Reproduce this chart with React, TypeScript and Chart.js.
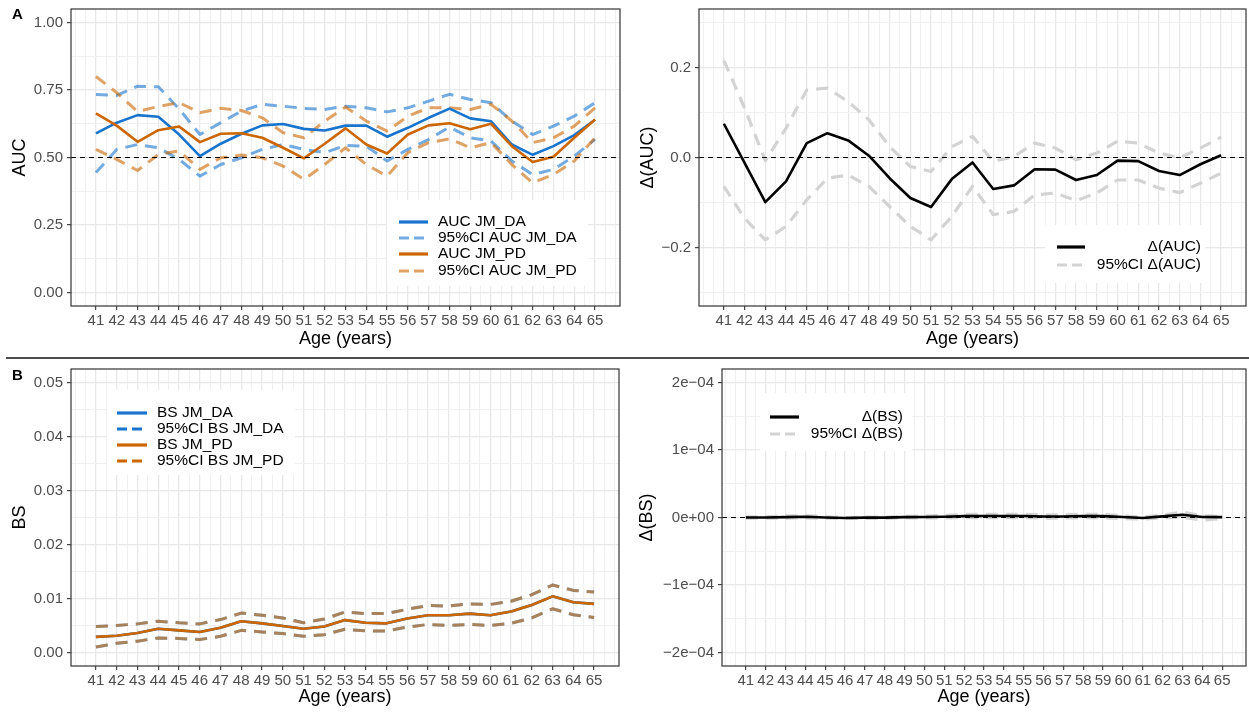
import React, { useEffect, useRef } from "react";
import { Chart, registerables } from "chart.js";

Chart.register(...registerables);

const FONT = "'Liberation Sans', Arial, Helvetica, sans-serif";
Chart.defaults.font.family = FONT;

// ---------------- data ----------------
const AGES = [41, 42, 43, 44, 45, 46, 47, 48, 49, 50, 51, 52, 53, 54, 55, 56, 57, 58, 59, 60, 61, 62, 63, 64, 65];

const AUC_DA = [0.589, 0.629, 0.657, 0.651, 0.585, 0.505, 0.551, 0.588, 0.619, 0.624, 0.606, 0.600, 0.618, 0.618, 0.577, 0.610, 0.647, 0.681, 0.645, 0.634, 0.548, 0.510, 0.542, 0.583, 0.640];
const AUC_DA_HI = [0.733, 0.730, 0.764, 0.762, 0.680, 0.585, 0.629, 0.672, 0.697, 0.690, 0.682, 0.678, 0.690, 0.684, 0.669, 0.684, 0.709, 0.734, 0.715, 0.703, 0.635, 0.585, 0.616, 0.653, 0.703];
const AUC_DA_LO = [0.444, 0.530, 0.548, 0.536, 0.493, 0.431, 0.474, 0.499, 0.530, 0.548, 0.530, 0.518, 0.545, 0.542, 0.487, 0.530, 0.567, 0.613, 0.573, 0.561, 0.487, 0.437, 0.456, 0.505, 0.567];
const AUC_PD = [0.663, 0.618, 0.558, 0.601, 0.615, 0.557, 0.588, 0.590, 0.573, 0.536, 0.497, 0.551, 0.608, 0.548, 0.515, 0.585, 0.619, 0.627, 0.605, 0.625, 0.542, 0.483, 0.503, 0.573, 0.641];
const AUC_PD_HI = [0.800, 0.740, 0.670, 0.689, 0.703, 0.666, 0.682, 0.674, 0.647, 0.592, 0.573, 0.635, 0.687, 0.635, 0.598, 0.653, 0.684, 0.684, 0.678, 0.697, 0.635, 0.555, 0.573, 0.616, 0.684];
const AUC_PD_LO = [0.530, 0.493, 0.452, 0.511, 0.524, 0.456, 0.499, 0.509, 0.499, 0.468, 0.419, 0.474, 0.536, 0.474, 0.431, 0.518, 0.555, 0.569, 0.536, 0.555, 0.474, 0.406, 0.437, 0.487, 0.573];

const DAUC = [0.075, -0.012, -0.099, -0.053, 0.032, 0.054, 0.038, 0.004, -0.046, -0.090, -0.110, -0.048, -0.011, -0.070, -0.062, -0.026, -0.027, -0.050, -0.039, -0.007, -0.008, -0.030, -0.039, -0.015, 0.005];
const DAUC_HI = [0.216, 0.110, -0.007, 0.065, 0.150, 0.154, 0.124, 0.084, 0.024, -0.020, -0.031, 0.024, 0.047, -0.009, 0.002, 0.032, 0.021, -0.005, 0.010, 0.036, 0.032, 0.010, -0.001, 0.021, 0.045];
const DAUC_LO = [-0.064, -0.135, -0.183, -0.153, -0.094, -0.046, -0.039, -0.064, -0.109, -0.153, -0.183, -0.131, -0.064, -0.127, -0.120, -0.083, -0.079, -0.096, -0.079, -0.050, -0.050, -0.068, -0.078, -0.057, -0.035];

const BS_DA = [0.0029, 0.0031, 0.0036, 0.0044, 0.0041, 0.0038, 0.0046, 0.0058, 0.0054, 0.0049, 0.0044, 0.0048, 0.0060, 0.0055, 0.0054, 0.0063, 0.0069, 0.0069, 0.0072, 0.0069, 0.0076, 0.0088, 0.0104, 0.0093, 0.0090];
const BS_DA_HI = [0.0048, 0.0050, 0.0053, 0.0058, 0.0055, 0.0053, 0.0061, 0.0073, 0.0069, 0.0064, 0.0055, 0.0062, 0.0075, 0.0072, 0.0072, 0.0080, 0.0087, 0.0086, 0.0090, 0.0089, 0.0095, 0.0107, 0.0125, 0.0115, 0.0112];
const BS_DA_LO = [0.0010, 0.0017, 0.0021, 0.0027, 0.0026, 0.0024, 0.0030, 0.0041, 0.0038, 0.0035, 0.0030, 0.0033, 0.0043, 0.0040, 0.0040, 0.0047, 0.0052, 0.0050, 0.0052, 0.0050, 0.0054, 0.0064, 0.0081, 0.0070, 0.0065];
const BS_PD = [0.0029, 0.0031, 0.0036, 0.0044, 0.0041, 0.0038, 0.0046, 0.0058, 0.0054, 0.0049, 0.0044, 0.0048, 0.0060, 0.0055, 0.0054, 0.0063, 0.0069, 0.0069, 0.0072, 0.0069, 0.0076, 0.0088, 0.0104, 0.0093, 0.0090];
const BS_PD_HI = [0.0048, 0.0050, 0.0053, 0.0058, 0.0055, 0.0053, 0.0061, 0.0073, 0.0069, 0.0064, 0.0055, 0.0062, 0.0075, 0.0072, 0.0072, 0.0080, 0.0087, 0.0086, 0.0090, 0.0089, 0.0095, 0.0107, 0.0125, 0.0115, 0.0112];
const BS_PD_LO = [0.0010, 0.0017, 0.0021, 0.0027, 0.0026, 0.0024, 0.0030, 0.0041, 0.0038, 0.0035, 0.0030, 0.0033, 0.0043, 0.0040, 0.0040, 0.0047, 0.0052, 0.0050, 0.0052, 0.0050, 0.0054, 0.0064, 0.0081, 0.0070, 0.0065];

const DBS = [0, 0, 0.5e-6, 1e-6, 0, -0.7e-6, -0.2e-6, -0.2e-6, 0.5e-6, 0.7e-6, 1.2e-6, 2e-6, 2.2e-6, 2.2e-6, 2.2e-6, 1.5e-6, 1.5e-6, 2.2e-6, 2e-6, 0.7e-6, -0.7e-6, 1.7e-6, 4e-6, 0.7e-6, 0.5e-6];
const DBS_HI = [1e-6, 1e-6, 2e-6, 2.7e-6, 1e-6, 0, 0.5e-6, 0.5e-6, 1.5e-6, 2e-6, 3e-6, 4.5e-6, 4.7e-6, 4.7e-6, 4.7e-6, 4e-6, 4e-6, 4.7e-6, 4.5e-6, 2.5e-6, 0.5e-6, 3.5e-6, 7.9e-6, 2.5e-6, 1.5e-6];
const DBS_LO = [-1e-6, -1e-6, -1e-6, -0.5e-6, -1e-6, -1.5e-6, -1.2e-6, -1.2e-6, -0.5e-6, -0.5e-6, -0.5e-6, -0.3e-6, -0.3e-6, -0.3e-6, -0.3e-6, -0.8e-6, -0.8e-6, -0.3e-6, -0.5e-6, -1.5e-6, -2.5e-6, -0.5e-6, 0.5e-6, -4e-6, -1.5e-6];

// tick values / labels
const AUC_TICKS = [0, 0.25, 0.5, 0.75, 1];
const AUC_TICK_LABELS = ["0.00", "0.25", "0.50", "0.75", "1.00"];
const DAUC_TICKS = [-0.2, 0, 0.2];
const DAUC_TICK_LABELS = ["\u22120.2", "0.0", "0.2"];
const BS_TICKS = [0, 0.01, 0.02, 0.03, 0.04, 0.05];
const BS_TICK_LABELS = ["0.00", "0.01", "0.02", "0.03", "0.04", "0.05"];
const DBS_TICKS = [-2e-4, -1e-4, 0, 1e-4, 2e-4];
const DBS_TICK_LABELS = ["\u22122e\u221204", "\u22121e\u221204", "0e+00", "1e\u221204", "2e\u221204"];

// ---------------- styles ----------------
const BLUE = "#1874CD";
const ORANGE = "#CC6600";
const BLUE_CI = "rgba(24,116,205,0.6)";
const ORANGE_CI = "rgba(204,102,0,0.6)";
const GREY_CI = "#d3d3d3";
const BLACK = "#000000";
const DASH = [12, 8];
const KEY_DASH = [10, 5];

// expand range like ggplot (5%)
function expand(lo: number, hi: number): [number, number] {
  const d = (hi - lo) * 0.05;
  return [lo - d, hi + d];
}

function withMinors(major: number[], lo: number, hi: number): number[] {
  const step = major[1] - major[0];
  const ext = [major[0] - step, ...major, major[major.length - 1] + step];
  const out: number[] = [];
  for (let i = 0; i < ext.length; i++) {
    out.push(ext[i]);
    if (i < ext.length - 1) out.push((ext[i] + ext[i + 1]) / 2);
  }
  const eps = step * 1e-6;
  return out.filter((v) => v >= lo - eps && v <= hi + eps);
}

function isMajor(v: number, major: number[]) {
  const step = Math.abs(major[1] - major[0]);
  return major.some((m) => Math.abs(m - v) < step * 1e-6);
}

type Series = { data: number[]; color: string; width: number; dash: number[]; order: number };
type LegendItem = { label: string; color: string; dash: number[]; width: number };
type LegendSpec = {
  box: [number, number, number, number];
  keyX0: number;
  keyX1: number;
  textX: number;
  align: CanvasTextAlign;
  rows: number[];
  items: LegendItem[];
};
type PanelSpec = {
  left: number;
  top: number;
  w: number;
  h: number;
  pad: { top: number; right: number };
  yW: number;
  xH: number;
  yMajor: number[];
  yLabels: string[];
  yRange: [number, number];
  yTitle: string;
  yTitlePad: number;
  xTitlePad: number;
  refY: number;
  series: Series[];
  legend: LegendSpec;
};

const X_RANGE = expand(AGES[0], AGES[AGES.length - 1]);

function buildConfig(spec: PanelSpec): any {
  const xGrid = withMinors(AGES, X_RANGE[0], X_RANGE[1]);
  const yGrid = withMinors(spec.yMajor, spec.yRange[0], spec.yRange[1]);

  const deco = {
    id: "deco" + spec.left + "_" + spec.top,
    afterDatasetsDraw(chart: any) {
      const { ctx, chartArea } = chart;
      const y = chart.scales.y.getPixelForValue(spec.refY);
      ctx.save();
      ctx.strokeStyle = "#000";
      ctx.lineWidth = 1.2;
      ctx.setLineDash([5, 4]);
      ctx.beginPath();
      ctx.moveTo(chartArea.left, y);
      ctx.lineTo(chartArea.right, y);
      ctx.stroke();
      ctx.restore();
    },
    afterDraw(chart: any) {
      const { ctx, chartArea } = chart;
      ctx.save();
      ctx.strokeStyle = "#333333";
      ctx.lineWidth = 1.2;
      ctx.setLineDash([]);
      ctx.strokeRect(chartArea.left, chartArea.top, chartArea.right - chartArea.left, chartArea.bottom - chartArea.top);
      const L = spec.legend;
      ctx.fillStyle = "#ffffff";
      ctx.fillRect(L.box[0], L.box[1], L.box[2], L.box[3]);
      L.items.forEach((it, i) => {
        const yy = L.rows[i];
        ctx.strokeStyle = it.color;
        ctx.lineWidth = it.width;
        ctx.lineCap = "butt";
        ctx.setLineDash(it.dash);
        ctx.beginPath();
        ctx.moveTo(L.keyX0, yy);
        ctx.lineTo(L.keyX1, yy);
        ctx.stroke();
        ctx.setLineDash([]);
        ctx.fillStyle = "#000";
        ctx.font = `15.5px ${FONT}`;
        ctx.textBaseline = "middle";
        ctx.textAlign = L.align;
        ctx.fillText(it.label, L.textX, yy);
      });
      ctx.restore();
    },
  };

  const gridOpts = (major: number[]) => ({
    color: (c: any) => (isMajor(c.tick.value, major) ? "#E8E8E8" : "#F0F0F0"),
    lineWidth: (c: any) => (isMajor(c.tick.value, major) ? 1.3 : 1),
    tickColor: (c: any) => (isMajor(c.tick.value, major) ? "#333333" : "rgba(0,0,0,0)"),
    tickWidth: 1.1,
    tickLength: 4,
    drawTicks: true,
  });

  return {
    type: "line",
    data: {
      datasets: spec.series.map((s) => ({
        data: AGES.map((a, i) => ({ x: a, y: s.data[i] })),
        borderColor: s.color,
        borderWidth: s.width,
        borderDash: s.dash,
        borderCapStyle: "butt",
        borderJoinStyle: "round",
        pointRadius: 0,
        tension: 0,
        fill: false,
        order: s.order,
      })),
    },
    options: {
      responsive: false,
      animation: false,
      events: [],
      layout: { padding: { top: spec.pad.top, right: spec.pad.right, left: 0, bottom: 0 } },
      plugins: { legend: { display: false }, tooltip: { enabled: false } },
      scales: {
        x: {
          type: "linear",
          bounds: "data",
          min: X_RANGE[0],
          max: X_RANGE[1],
          afterBuildTicks: (s: any) => {
            s.ticks = xGrid.map((v) => ({ value: v }));
          },
          afterFit: (s: any) => {
            s.height = spec.xH;
            s.paddingLeft = 0;
            s.paddingRight = 0;
          },
          ticks: {
            autoSkip: false,
            maxRotation: 0,
            minRotation: 0,
            padding: 2,
            color: "#4D4D4D",
            font: { size: 15 },
            callback: (v: number) => (isMajor(v, AGES) && v >= AGES[0] && v <= AGES[AGES.length - 1] ? String(Math.round(v)) : ""),
          },
          grid: gridOpts(AGES),
          border: { display: false },
          title: { display: true, text: "Age (years)", color: "#000", font: { size: 18 }, padding: { top: 0, bottom: spec.xTitlePad } },
        },
        y: {
          type: "linear",
          bounds: "data",
          min: spec.yRange[0],
          max: spec.yRange[1],
          afterBuildTicks: (s: any) => {
            s.ticks = yGrid.map((v) => ({ value: v }));
          },
          afterFit: (s: any) => {
            s.width = spec.yW;
            s.paddingTop = 0;
            s.paddingBottom = 0;
          },
          ticks: {
            autoSkip: false,
            padding: 4,
            color: "#4D4D4D",
            font: { size: 15 },
            callback: (v: number) => {
              const step = Math.abs(spec.yMajor[1] - spec.yMajor[0]);
              const idx = spec.yMajor.findIndex((m) => Math.abs(m - v) < step * 1e-6);
              return idx >= 0 ? spec.yLabels[idx] : "";
            },
          },
          grid: gridOpts(spec.yMajor),
          border: { display: false },
          title: { display: true, text: spec.yTitle, color: "#000", font: { size: 18 }, padding: { top: spec.yTitlePad, bottom: 0 } },
        },
      },
    },
    plugins: [deco],
  };
}

const PANELS: PanelSpec[] = [
  {
    left: 0, top: 0, w: 625, h: 355,
    pad: { top: 9, right: 5 }, yW: 71, xH: 49,
    yMajor: AUC_TICKS, yLabels: AUC_TICK_LABELS, yRange: expand(0, 1),
    yTitle: "AUC", yTitlePad: 9, xTitlePad: 5, refY: 0.5,
    series: [
      { data: AUC_PD, color: ORANGE, width: 2.6, dash: [], order: 0 },
      { data: AUC_DA, color: BLUE, width: 2.6, dash: [], order: 1 },
      { data: AUC_PD_HI, color: ORANGE_CI, width: 3, dash: DASH, order: 2 },
      { data: AUC_PD_LO, color: ORANGE_CI, width: 3, dash: DASH, order: 2 },
      { data: AUC_DA_HI, color: BLUE_CI, width: 3, dash: DASH, order: 3 },
      { data: AUC_DA_LO, color: BLUE_CI, width: 3, dash: DASH, order: 3 },
    ],
    legend: {
      box: [387, 200, 201, 86], keyX0: 399, keyX1: 428, textX: 438, align: "left",
      rows: [222, 238, 254, 271],
      items: [
        { label: "AUC JM_DA", color: BLUE, dash: [], width: 3.2 },
        { label: "95%CI AUC JM_DA", color: BLUE_CI, dash: KEY_DASH, width: 3.2 },
        { label: "AUC JM_PD", color: ORANGE, dash: [], width: 3.2 },
        { label: "95%CI AUC JM_PD", color: ORANGE_CI, dash: KEY_DASH, width: 3.2 },
      ],
    },
  },
  {
    left: 625, top: 0, w: 624, h: 355,
    pad: { top: 9, right: 3 }, yW: 74, xH: 49,
    yMajor: DAUC_TICKS, yLabels: DAUC_TICK_LABELS, yRange: expand(-0.3, 0.3),
    yTitle: "\u0394(AUC)", yTitlePad: 12, xTitlePad: 5, refY: 0,
    series: [
      { data: DAUC, color: BLACK, width: 2.6, dash: [], order: 0 },
      { data: DAUC_HI, color: GREY_CI, width: 3.2, dash: DASH, order: 1 },
      { data: DAUC_LO, color: GREY_CI, width: 3.2, dash: DASH, order: 1 },
    ],
    legend: {
      box: [420, 225, 160, 58], keyX0: 432, keyX1: 460, textX: 576, align: "right",
      rows: [247, 265],
      items: [
        { label: "\u0394(AUC)", color: BLACK, dash: [], width: 3.2 },
        { label: "95%CI \u0394(AUC)", color: GREY_CI, dash: KEY_DASH, width: 3.2 },
      ],
    },
  },
  {
    left: 0, top: 360, w: 625, h: 353,
    pad: { top: 9, right: 6 }, yW: 71, xH: 47,
    yMajor: BS_TICKS, yLabels: BS_TICK_LABELS, yRange: expand(0, 0.05),
    yTitle: "BS", yTitlePad: 9, xTitlePad: 5, refY: -1,
    series: [
      { data: BS_PD, color: ORANGE, width: 2.6, dash: [], order: 0 },
      { data: BS_DA, color: BLUE, width: 2.6, dash: [], order: 1 },
      { data: BS_PD_HI, color: ORANGE_CI, width: 3, dash: DASH, order: 2 },
      { data: BS_PD_LO, color: ORANGE_CI, width: 3, dash: DASH, order: 2 },
      { data: BS_DA_HI, color: BLUE_CI, width: 3, dash: DASH, order: 3 },
      { data: BS_DA_LO, color: BLUE_CI, width: 3, dash: DASH, order: 3 },
    ],
    legend: {
      box: [107, 30, 188, 85], keyX0: 117, keyX1: 147, textX: 157, align: "left",
      rows: [53, 69, 85, 101],
      items: [
        { label: "BS JM_DA", color: BLUE, dash: [], width: 3.2 },
        { label: "95%CI BS JM_DA", color: BLUE, dash: KEY_DASH, width: 3.2 },
        { label: "BS JM_PD", color: ORANGE, dash: [], width: 3.2 },
        { label: "95%CI BS JM_PD", color: ORANGE, dash: KEY_DASH, width: 3.2 },
      ],
    },
  },
  {
    left: 625, top: 360, w: 624, h: 353,
    pad: { top: 9, right: 3 }, yW: 97, xH: 47,
    yMajor: DBS_TICKS, yLabels: DBS_TICK_LABELS, yRange: expand(-2e-4, 2e-4),
    yTitle: "\u0394(BS)", yTitlePad: 11, xTitlePad: 5, refY: 0,
    series: [
      { data: DBS, color: BLACK, width: 2.6, dash: [], order: 0 },
      { data: DBS_HI, color: GREY_CI, width: 3.2, dash: DASH, order: 1 },
      { data: DBS_LO, color: GREY_CI, width: 3.2, dash: DASH, order: 1 },
    ],
    legend: {
      box: [135, 33, 152, 58], keyX0: 145, keyX1: 174, textX: 278, align: "right",
      rows: [57, 74],
      items: [
        { label: "\u0394(BS)", color: BLACK, dash: [], width: 3.2 },
        { label: "95%CI \u0394(BS)", color: GREY_CI, dash: KEY_DASH, width: 3.2 },
      ],
    },
  },
];

function Panel({ spec }: { spec: PanelSpec }) {
  const ref = useRef<HTMLCanvasElement>(null);
  useEffect(() => {
    const chart = new Chart(ref.current as HTMLCanvasElement, buildConfig(spec));
    return () => chart.destroy();
  }, [spec]);
  return (
    <canvas
      ref={ref}
      width={spec.w}
      height={spec.h}
      style={{ position: "absolute", left: spec.left, top: spec.top, width: spec.w, height: spec.h }}
    />
  );
}

export default function App() {
  return (
    <div style={{ position: "absolute", left: 0, top: 0, width: 1249, height: 713, background: "#fff", fontFamily: FONT }}>
      {PANELS.map((p, i) => (
        <Panel key={i} spec={p} />
      ))}
      <div style={{ position: "absolute", left: 6, top: 357, width: 1243, height: 2, background: "#4d4d4d" }} />
      <div style={{ position: "absolute", left: 12, top: 5, fontSize: 15, fontWeight: "bold", color: "#000", lineHeight: "18px" }}>A</div>
      <div style={{ position: "absolute", left: 12, top: 366, fontSize: 15, fontWeight: "bold", color: "#000", lineHeight: "18px" }}>B</div>
    </div>
  );
}
